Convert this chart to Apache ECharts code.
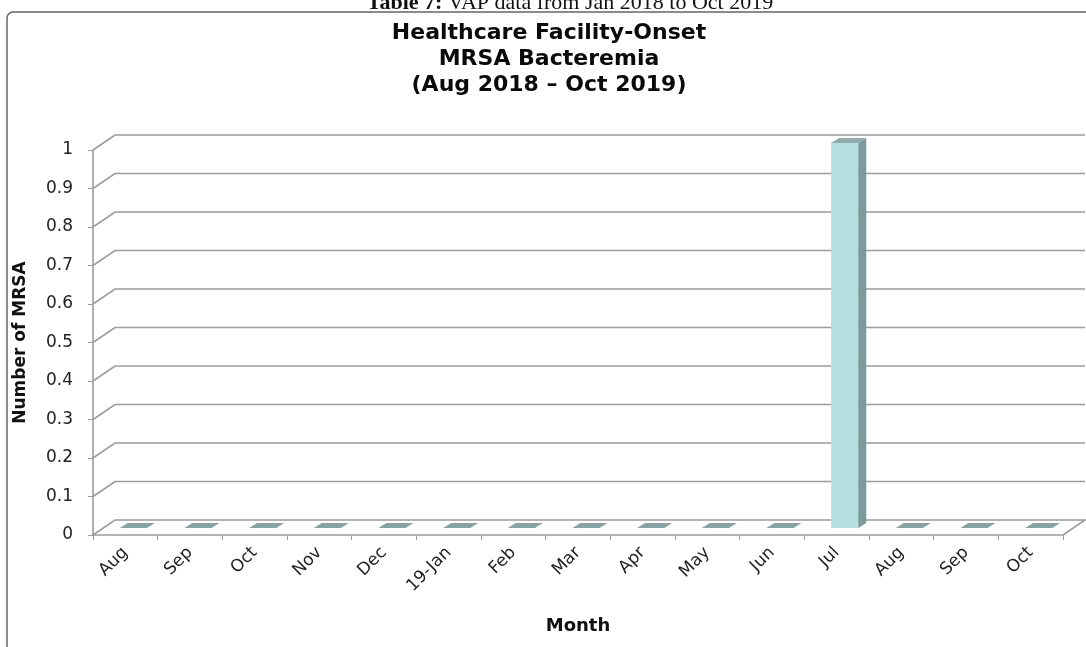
<!DOCTYPE html>
<html>
<head>
<meta charset="utf-8">
<script src="https://cdn.jsdelivr.net/npm/echarts@6/dist/echarts.min.js"></script>
<style>
html, body { margin: 0; padding: 0; background: #fff; }
#main { width: 1086px; height: 647px; }
</style>
</head>
<body>
<div id="main"></div>
<script>
// chart data
var months = ['Aug', 'Sep', 'Oct', 'Nov', 'Dec', '19-Jan', 'Feb', 'Mar', 'Apr', 'May', 'Jun', 'Jul', 'Aug', 'Sep', 'Oct'];
var mrsaCounts = [0, 0, 0, 0, 0, 0, 0, 0, 0, 0, 0, 1, 0, 0, 0];
var yTicks = [0, 0.1, 0.2, 0.3, 0.4, 0.5, 0.6, 0.7, 0.8, 0.9, 1];

// 3D depth offsets (excel style 3d column)
var WALL_DX = 22, WALL_DY = -15;
var BAR_DX = 8, BAR_DY = -7;
var SIDE_DX = 8, SIDE_DY = -5;

var FONT = 'DejaVu Sans';

/*
 * back wall grid lines + floor
 */
function renderFrame(params, api){
	var cs = params.coordSys;
	var v = api.value(1);
	var y = api.coord([0, v])[1];
	var x0 = cs.x, x1 = cs.x + cs.width;
	var pts = [[x0, y], [x0 + WALL_DX, y + WALL_DY], [x1 + WALL_DX, y + WALL_DY]];
	if(v === 0){
		pts.push([x1, y]);
	}
	return {
		type : 'polyline',
		shape : { points : pts },
		style : { stroke : '#9c9c9c', lineWidth : 1.6, fill : null }
	};
}

/*
 * 3d column: front, side, top
 */
function renderBar(params, api){
	var i = api.value(0), v = api.value(1);
	var base = api.coord([i, 0]);
	var top = api.coord([i, v]);
	var w = api.size([1, 0])[0] * 0.42;
	var xl = base[0] - w / 2 + BAR_DX, xr = xl + w;
	var yb = base[1] + BAR_DY, yt = top[1] + BAR_DY;
	var children = [];
	if(yb - yt > 0.5){
		children.push({
			type : 'rect',
			shape : { x : xl, y : yt, width : w, height : yb - yt },
			style : { fill : '#b6dfe1' }
		});
		children.push({
			type : 'polygon',
			shape : { points : [[xr, yt], [xr + SIDE_DX, yt + SIDE_DY], [xr + SIDE_DX, yb + SIDE_DY], [xr, yb]] },
			style : { fill : '#7b9a9b' }
		});
	}
	children.push({
		type : 'polygon',
		shape : { points : [[xl, yt], [xl + SIDE_DX, yt + SIDE_DY], [xr + SIDE_DX, yt + SIDE_DY], [xr, yt]] },
		style : { fill : v > 0 ? '#8fadad' : '#82a5a5' }
	});
	return { type : 'group', children : children };
}

var myChart = echarts.init(document.getElementById('main'));

var option = {
	animation : false,
	backgroundColor : '#fff',
	grid : { left : 93, right : 23, top : 150, bottom : 112 },
	graphic : [
		{
			type : 'rect',
			z : -10,
			shape : { x : 7, y : 12, width : 1100, height : 700, r : 6 },
			style : { fill : null, stroke : '#666', lineWidth : 1.5 }
		},
		{
			type : 'text',
			style : {
				x : 570, y : 3,
				text : '{b|Table 7:} VAP data from Jan 2018 to Oct 2019',
				align : 'center', verticalAlign : 'middle',
				font : '22px "Liberation Serif"',
				fill : '#111',
				rich : { b : { fontWeight : 'bold', fontSize : 22, fontFamily : 'Liberation Serif' } }
			}
		},
		{
			type : 'text',
			style : {
				x : 549, y : 20,
				text : 'Healthcare Facility-Onset\nMRSA Bacteremia\n(Aug 2018 \u2013 Oct 2019)',
				align : 'center', verticalAlign : 'top',
				font : 'bold 22px "' + FONT + '"',
				lineHeight : 26,
				fill : '#0a0a0a'
			}
		}
	],
	xAxis : {
		type : 'category',
		data : months,
		boundaryGap : true,
		name : 'Month',
		nameLocation : 'middle',
		nameGap : 82,
		nameTextStyle : { fontFamily : FONT, fontWeight : 'bold', fontSize : 18, color : '#111' },
		axisLine : { lineStyle : { color : '#9c9c9c', width : 1.6 } },
		axisTick : { show : true, interval : 0, length : 5, lineStyle : { color : '#9c9c9c' } },
		axisLabel : { interval : 0, rotate : 45, margin : 15, fontFamily : FONT, fontSize : 17, color : '#222' },
		splitLine : { show : false }
	},
	yAxis : {
		type : 'value',
		min : 0,
		max : 1,
		interval : 0.1,
		name : 'Number of MRSA',
		nameLocation : 'middle',
		nameRotate : 90,
		nameGap : 64,
		nameTextStyle : { fontFamily : FONT, fontWeight : 'bold', fontSize : 17, color : '#111' },
		axisLine : { show : true, lineStyle : { color : '#9c9c9c', width : 1.6 } },
		axisTick : { show : true, length : 5, lineStyle : { color : '#9c9c9c' } },
		axisLabel : { margin : 20, fontFamily : FONT, fontSize : 17, color : '#222' },
		splitLine : { show : false }
	},
	series : [
		{
			type : 'custom',
			name : 'frame',
			clip : false,
			z : 1,
			silent : true,
			renderItem : renderFrame,
			data : yTicks.map(function(v){ return [0, v]; })
		},
		{
			type : 'custom',
			name : 'MRSA',
			clip : false,
			z : 5,
			renderItem : renderBar,
			data : mrsaCounts.map(function(v, i){ return [i, v]; })
		}
	]
};
myChart.setOption(option);
</script>
</body>
</html>
